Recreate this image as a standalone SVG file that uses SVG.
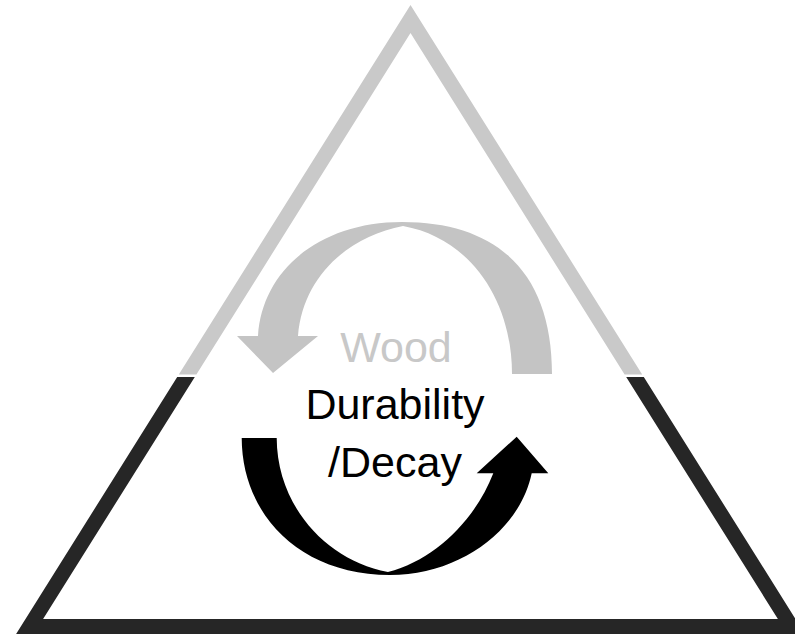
<svg xmlns="http://www.w3.org/2000/svg" width="795" height="636" viewBox="0 0 795 636">
<style>
.lbl{font-family:"Liberation Sans",Arial,sans-serif;font-size:43px;text-anchor:middle}
</style>
<rect width="795" height="636" fill="#ffffff"/>
<g id="triangle">
<polygon id="tri-top" fill="#c9c9c9" points="410.5,4.9 642.2,374.5 624.6,374.5 410.5,33 196.4,374.5 178.8,374.5"/>
<polygon id="tri-bottom" fill="#262626" points="177.2,377 16.1,634 804.9,634 643.8,377 626.2,377 777.9,619 43.1,619 194.8,377"/>
</g>
<g id="connectors">
<path id="arrow-grey" fill="#c4c4c4" d="M552,374 C552,275 500,222 402,222 C320,222 262,270 258,336 L237,336 L273,373 L318,336 L298,336 C303,275 350,236 403,226 C470,238 512,300 512,374 Z"/>
<path id="arrow-black" fill="#000000" d="M241.7,438 C242,515 300,575 390,575 C460,575 520,530 531.7,473.3 L548.3,473.3 L516.7,436.7 L476.7,473.3 L493.3,473.3 C475,520 435,560 388,572 C325,560 277,505 276.7,438 Z"/>
</g>
<g id="label">
<text class="lbl" x="396" y="362" fill="#c8c8c8">Wood</text>
<text class="lbl" x="395" y="419" fill="#000000">Durability</text>
<text class="lbl" x="395" y="477" fill="#000000">/Decay</text>
</g>
</svg>
